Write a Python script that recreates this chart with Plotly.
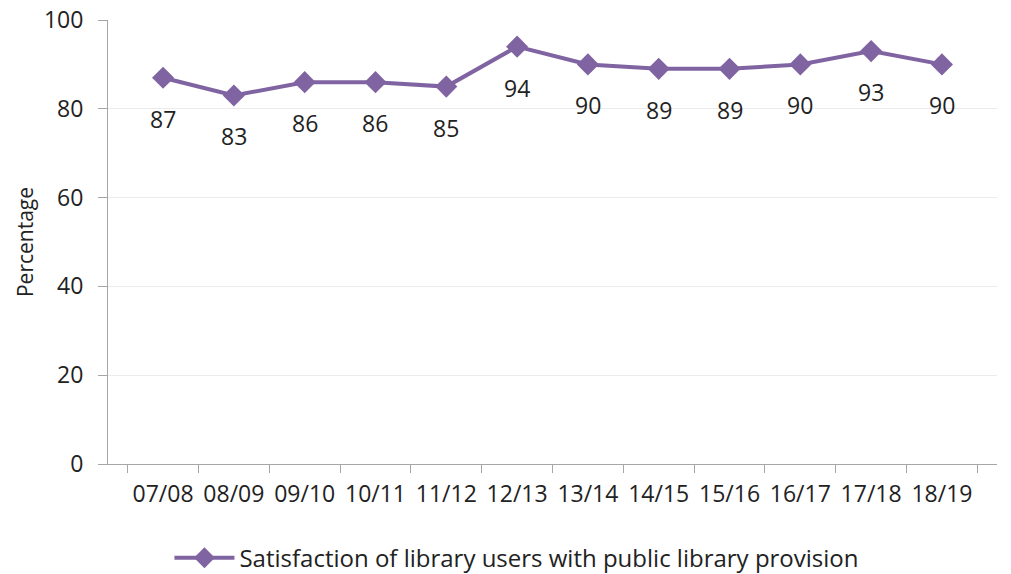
import plotly.graph_objects as go

# Data
years = ["07/08", "08/09", "09/10", "10/11", "11/12", "12/13",
         "13/14", "14/15", "15/16", "16/17", "17/18", "18/19"]
satisfaction = [87, 83, 86, 86, 85, 94, 90, 89, 89, 90, 93, 90]
y_ticks = [0, 20, 40, 60, 80, 100]

PURPLE = "#8064A2"
FONT = "Open Sans"
TEXT = "#222222"

fig = go.Figure()
fig.add_trace(go.Scatter(
    x=years, y=satisfaction,
    mode="lines+markers",
    name="Satisfaction of library users with public library provision",
    line=dict(color=PURPLE, width=4),
    marker=dict(symbol="diamond", size=17, color=PURPLE),
))

# data labels sit well below each point, as in the original
for yr, v in zip(years, satisfaction):
    fig.add_annotation(x=yr, y=v, text=str(v), showarrow=False,
                       yshift=-41, font=dict(family=FONT, size=23, color=TEXT))

fig.update_layout(
    width=1011, height=574,
    paper_bgcolor="white", plot_bgcolor="white",
    margin=dict(l=108, r=14, t=20, b=110, autoexpand=False),
    font=dict(family=FONT, size=22, color=TEXT),
    showlegend=True,
    legend=dict(orientation="h", x=0.46, xanchor="center", y=-0.212, yanchor="middle",
                font=dict(size=24), itemwidth=60),
    xaxis=dict(
        type="category", showgrid=False, automargin=False,
        showline=True, linecolor="#A6A6A6", linewidth=1,
        ticks="outside", tickson="boundaries", ticklen=8, tickcolor="#A6A6A6",
        tickfont=dict(size=23), tickangle=0, ticklabelstandoff=9,
    ),
    yaxis=dict(
        range=[0, 100], tickvals=y_ticks, automargin=False,
        showgrid=True, gridcolor="#EBEBEB",
        showline=True, linecolor="#A6A6A6", linewidth=1,
        ticks="outside", ticklen=9, tickcolor="#A6A6A6",
        zeroline=False, tickfont=dict(size=23), ticklabeloverflow="allow",
        ticklabelstandoff=10,
        title=dict(text="Percentage", font=dict(size=21), standoff=4),
    ),
)

# drop the browser's default 8px body margin so the figure fills the window
fig.write_html("out.html", config={"displayModeBar": False},
               post_script="document.body.style.margin='0';")
